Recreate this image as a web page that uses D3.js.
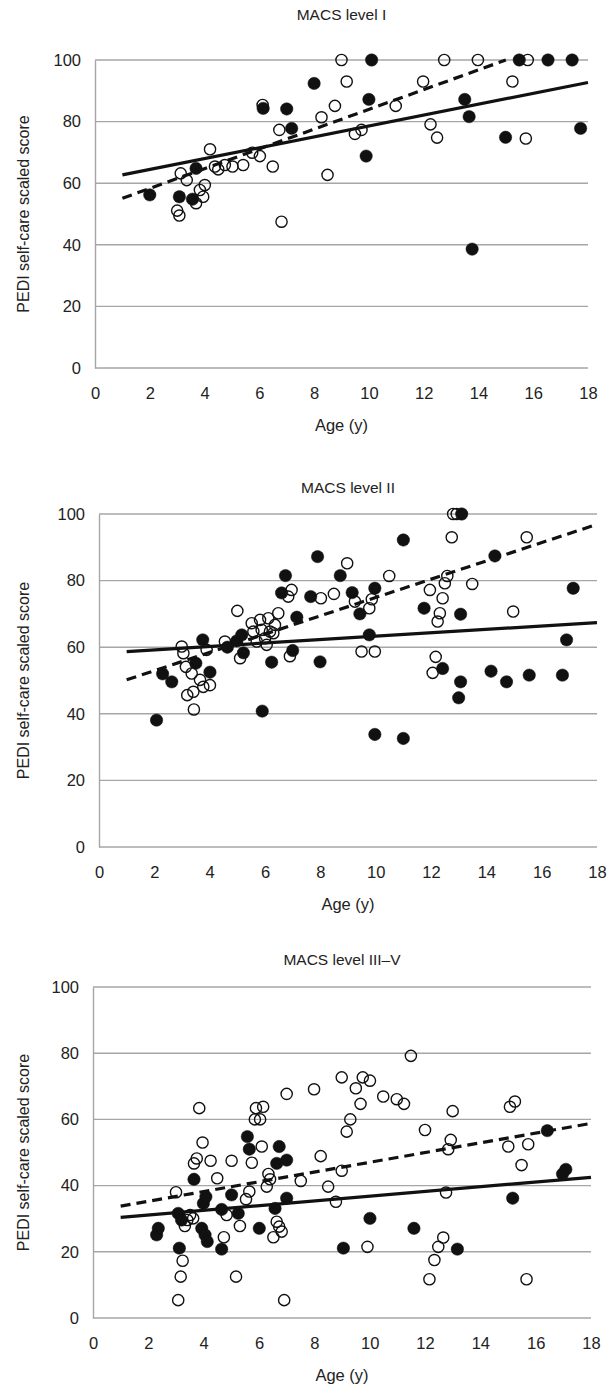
<!DOCTYPE html>
<html>
<head>
<meta charset="utf-8">
<script src="https://cdn.jsdelivr.net/npm/d3@7"></script>
<style>
  html, body { margin: 0; padding: 0; background: #fff; }
  svg { display: block; }
  text { font-family: "Liberation Sans", Arial, Helvetica, sans-serif; fill: #222; }
</style>
</head>
<body>
<svg id="chart" width="614" height="1393"></svg>
<script>
// ---------- data ----------
const ageTicks = [0, 2, 4, 6, 8, 10, 12, 14, 16, 18];
const scoreTicks = [0, 20, 40, 60, 80, 100];
const panelTitles = ["MACS level I", "MACS level II", "MACS level III\u2013V"];
const xAxisTitle = "Age (y)";
const yAxisTitle = "PEDI self-care scaled score";

// MACS level I  [age, score]
const macs1Filled = [[2.0,56.2],[3.08,55.6],[3.56,54.8],[3.69,64.8],[6.14,84.3],[7.0,84.1],[7.18,77.8],[8.0,92.4],
  [9.9,68.8],[10.0,87.2],[10.1,100],[13.5,87.2],[13.66,81.6],[13.77,38.6],[14.99,74.9],[15.49,100],[16.54,100],[17.42,100],[17.73,77.8]];
const macs1Open = [[3.0,51.1],[3.08,49.5],[3.13,63.2],[3.35,61],[3.69,53.5],[3.83,57.8],[3.95,55.6],[4.01,59.4],[4.2,71],
  [4.38,65.4],[4.5,64.5],[4.74,65.9],[5.02,65.4],[5.41,65.9],[5.74,69.9],[6.02,68.8],[6.12,85.4],[6.49,65.4],[6.73,77.3],
  [6.81,47.5],[8.27,81.4],[8.49,62.7],[8.76,85.1],[9.0,100],[9.19,93],[9.49,76],[9.73,77.3],[10.98,85.1],[11.98,93],
  [12.25,79.1],[12.49,74.8],[12.75,100],[13.98,100],[15.24,93],[15.73,74.5],[15.8,100]];
const macs1FitSolid = [[1,62.7],[18,92.7]];
const macs1FitDashed = [[1,55.1],[15,100]];

// MACS level II
const macs2Filled = [[2.08,38.1],[2.3,52],[2.63,49.6],[3.5,55.2],[3.75,62.2],[4.01,52.5],[4.64,60],[4.98,61.9],[5.16,63.7],
  [5.22,58.3],[5.9,40.8],[6.24,55.5],[6.6,76.3],[6.74,81.5],[7.0,59],[7.15,69],[7.65,75.2],[7.9,87.2],[7.99,55.6],
  [8.72,81.5],[9.15,76.4],[9.43,70],[9.77,63.7],[9.97,77.7],[9.97,33.8],[11.0,92.2],[11.0,32.6],[11.75,71.7],[12.42,53.6],
  [13.0,44.8],[13.07,69.9],[13.07,49.6],[13.11,100],[14.17,52.8],[14.31,87.4],[14.73,49.6],[15.55,51.6],[16.75,51.6],
  [16.9,62.2],[17.14,77.7]];
const macs2Open = [[2.99,60.2],[3.05,58.2],[3.14,54.1],[3.35,52.1],[3.19,45.6],[3.41,46.6],[3.43,41.3],[3.65,50.2],[3.77,48.1],
  [4.01,48.6],[3.89,59.2],[4.55,61.7],[5.0,70.9],[5.1,56.7],[5.52,67.2],[5.58,64.7],[5.7,61.7],[5.82,68.2],[5.88,65.2],
  [6.0,62.7],[6.06,60.7],[6.12,68.7],[6.18,64.7],[6.3,64.2],[6.36,66.7],[6.48,70.2],[6.84,75.2],[6.9,57.3],[6.96,77.2],
  [8.02,74.7],[8.49,76],[8.97,85.2],[9.25,73.7],[9.49,58.7],[9.77,71.7],[9.86,74.4],[9.97,58.7],[10.49,81.4],[11.96,77.2],
  [12.06,52.3],[12.17,57.1],[12.24,67.7],[12.32,70.2],[12.42,74.7],[12.5,79.2],[12.59,81.4],[12.75,93],[12.8,100],
  [12.93,100],[13.49,79],[14.97,70.7],[15.46,93]];
const macs2FitSolid = [[1,58.7],[18,67.4]];
const macs2FitDashed = [[1,50.2],[18,96.9]];

// MACS level III-V
const macs3Filled = [[2.3,25.1],[2.36,27.1],[3.08,31.6],[3.2,29.6],[3.12,21.1],[3.65,41.9],[3.93,27.1],[4.05,25.1],[4.13,23.1],
  [3.99,34.6],[4.08,36.6],[4.65,32.8],[4.65,20.8],[5.01,37.2],[5.25,31.6],[5.58,54.8],[5.65,51],[6.01,27.1],[6.58,33.1],
  [6.64,46.7],[6.73,51.8],[7.0,47.7],[7.0,36.2],[9.05,21.1],[10.01,30.1],[11.6,27.1],[13.17,20.8],[15.17,36.2],[16.42,56.6],
  [16.97,43.5],[17.09,44.9]];
const macs3Open = [[3.0,38],[3.08,5.4],[3.17,12.5],[3.24,17.3],[3.32,27.8],[3.41,29.6],[3.51,31.1],[3.62,30.1],[3.65,46.7],
  [3.75,48.2],[3.84,63.4],[3.96,53],[4.25,47.5],[4.49,42.2],[4.73,24.4],[4.83,31.1],[5.01,47.5],[5.17,12.5],[5.31,27.8],
  [5.53,35.9],[5.65,38.2],[5.74,46.9],[5.85,60],[5.89,63.4],[6.04,60],[6.1,51.8],[6.15,63.8],[6.28,39.7],[6.34,43.5],
  [6.4,41.9],[6.52,24.4],[6.64,29.1],[6.73,27.6],[6.82,26.1],[6.91,5.4],[7.0,67.7],[7.51,41.4],[7.99,69.1],[8.23,48.9],
  [8.5,39.7],[8.78,35.1],[8.99,72.7],[8.99,44.5],[9.17,56.3],[9.3,60],[9.5,69.4],[9.67,64.7],[9.75,72.7],[9.92,21.5],
  [10.01,71.7],[10.49,66.9],[10.98,66.1],[11.24,64.7],[11.49,79.2],[12.0,56.8],[12.16,11.7],[12.34,17.5],[12.48,21.5],
  [12.66,24.3],[12.76,37.9],[12.84,51],[12.93,53.8],[13.0,62.5],[15.01,51.8],[15.07,63.8],[15.25,65.4],[15.49,46.2],
  [15.67,11.7],[15.73,52.5]];
const macs3FitSolid = [[1,30.4],[18,42.5]];
const macs3FitDashed = [[1,33.8],[18,58.8]];

// ---------- layout ----------
const panels = [
  { title: panelTitles[0], filled: macs1Filled, open: macs1Open, solid: macs1FitSolid, dashed: macs1FitDashed,
    x0: 95, x1: 588, yTop: 60, yBot: 368, titleY: 20 },
  { title: panelTitles[1], filled: macs2Filled, open: macs2Open, solid: macs2FitSolid, dashed: macs2FitDashed,
    x0: 99, x1: 597, yTop: 514, yBot: 847, titleY: 493 },
  { title: panelTitles[2], filled: macs3Filled, open: macs3Open, solid: macs3FitSolid, dashed: macs3FitDashed,
    x0: 93, x1: 591, yTop: 987, yBot: 1318, titleY: 965 }
];

const svg = d3.select("#chart");
const gridColor = "#a6a6a6";
const R = 6.2;

panels.forEach(p => {
  const x = d3.scaleLinear().domain([0, 18]).range([p.x0, p.x1]);
  const y = d3.scaleLinear().domain([0, 100]).range([p.yBot, p.yTop]);
  const g = svg.append("g");

  // horizontal gridlines
  g.append("g").selectAll("line").data(scoreTicks).join("line")
    .attr("x1", p.x0).attr("x2", p.x1)
    .attr("y1", d => y(d)).attr("y2", d => y(d))
    .attr("stroke", gridColor).attr("stroke-width", 1.4);

  // y axis (left line + labels)
  const yAxis = d3.axisLeft(y).tickValues(scoreTicks).tickSize(0).tickPadding(14);
  const ya = g.append("g").attr("transform", `translate(${p.x0},0)`).call(yAxis);
  ya.select(".domain").attr("stroke", gridColor).attr("stroke-width", 1.4);
  ya.selectAll("text").style("font-size", "16.5px").attr("fill", "#222")
    .style("font-family", '"Liberation Sans", Arial, sans-serif');

  // x axis labels
  const xAxis = d3.axisBottom(x).tickValues(ageTicks).tickSize(0).tickPadding(19);
  const xa = g.append("g").attr("transform", `translate(0,${p.yBot})`).call(xAxis);
  xa.select(".domain").remove();
  xa.selectAll("text").style("font-size", "16.5px").attr("fill", "#222")
    .style("font-family", '"Liberation Sans", Arial, sans-serif');

  // titles
  const cx = (p.x0 + p.x1) / 2;
  g.append("text").attr("x", cx).attr("y", p.titleY).attr("text-anchor", "middle")
    .style("font-size", "15.5px").text(p.title);
  g.append("text").attr("x", cx).attr("y", p.yBot + 63).attr("text-anchor", "middle")
    .style("font-size", "16.5px").text(xAxisTitle);
  g.append("text")
    .attr("transform", `translate(29,${(p.yTop + p.yBot) / 2}) rotate(-90)`)
    .attr("text-anchor", "middle").style("font-size", "16px").text(yAxisTitle);

  // points: filled first, then open on top
  g.append("g").selectAll("circle").data(p.filled).join("circle")
    .attr("cx", d => x(d[0])).attr("cy", d => y(d[1])).attr("r", R)
    .attr("fill", "#111").attr("stroke", "#111").attr("stroke-width", 0.5);
  g.append("g").selectAll("circle").data(p.open).join("circle")
    .attr("cx", d => x(d[0])).attr("cy", d => y(d[1])).attr("r", R - 0.6)
    .attr("fill", "none").attr("stroke", "#111").attr("stroke-width", 1.4);

  // regression lines
  const line = d3.line().x(d => x(d[0])).y(d => y(d[1]));
  g.append("path").datum(p.solid).attr("d", line)
    .attr("fill", "none").attr("stroke", "#111").attr("stroke-width", 3.2);
  g.append("path").datum(p.dashed).attr("d", line)
    .attr("fill", "none").attr("stroke", "#111").attr("stroke-width", 3.2)
    .attr("stroke-dasharray", "10,6");
});
</script>
</body>
</html>
